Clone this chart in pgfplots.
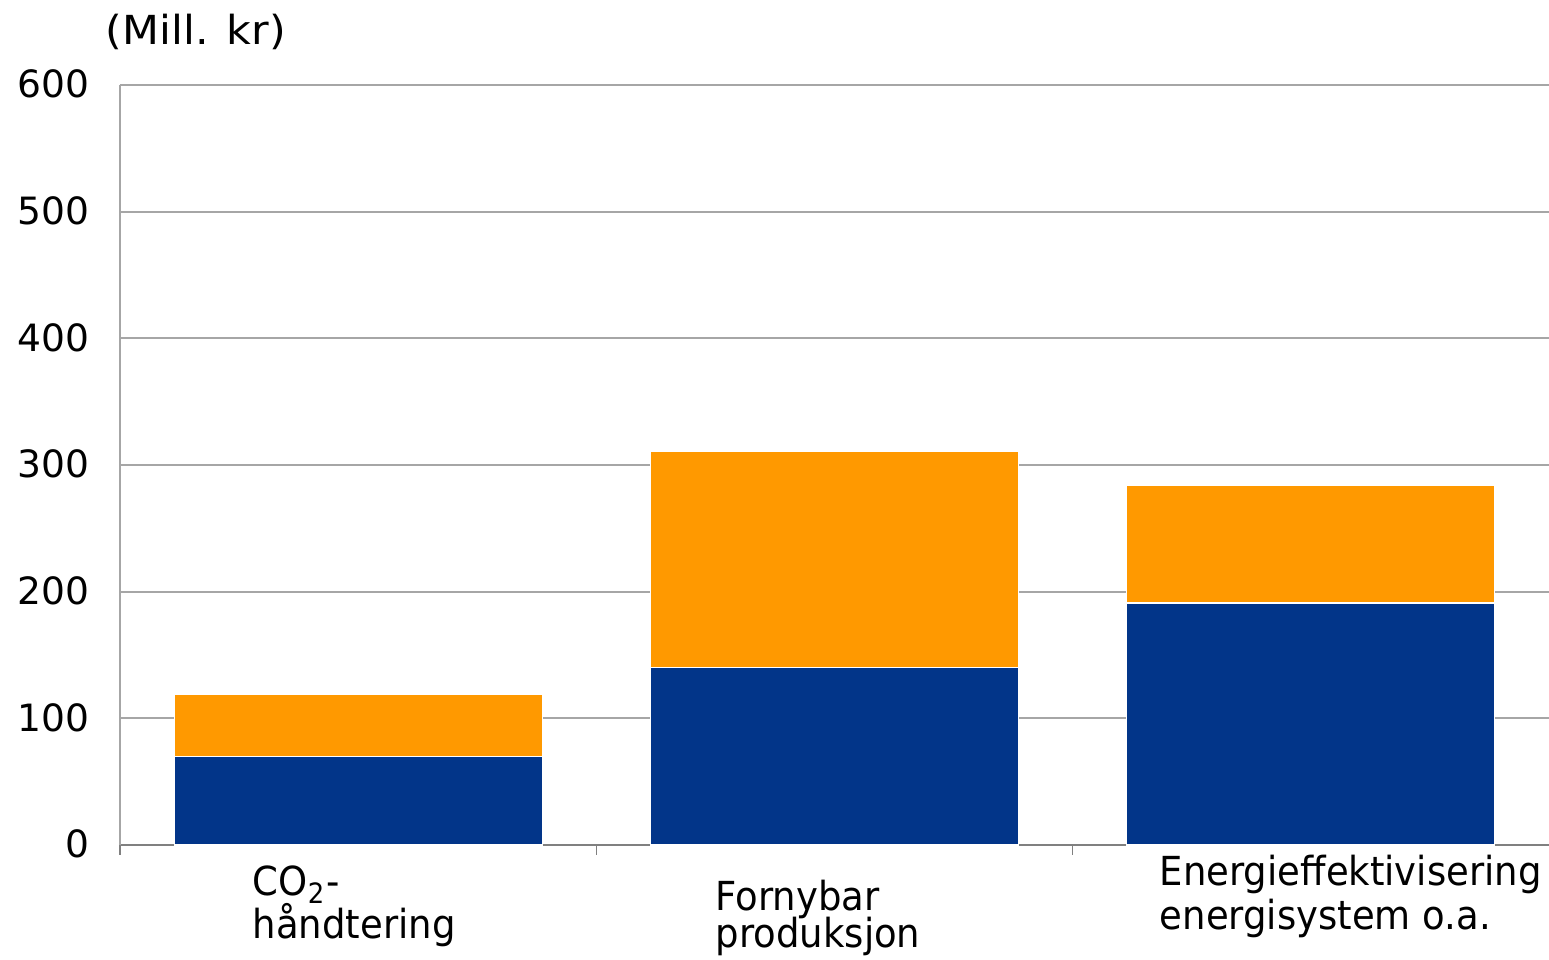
\documentclass[border=0pt]{standalone}
\usepackage{fontspec}
\setmainfont{DejaVu Sans}
\usepackage{graphicx}
\usepackage{pgfplots}
\pgfplotsset{compat=1.18}

\definecolor{barblue}{RGB}{2,53,137}
\definecolor{barorange}{RGB}{255,153,0}
\definecolor{gridgray}{RGB}{166,166,166}
\definecolor{axisgray}{RGB}{128,128,128}

% narrower setting for the category labels
\newcommand\cat[1]{\scalebox{0.925}[1]{#1}}

\begin{document}
\begin{tikzpicture}
\useasboundingbox (-30pt,-28.75pt) rectangle (357.25pt,211.25pt);
\begin{axis}[
  at={(0,0)}, anchor=south west,
  scale only axis,
  width=357.25pt, height=190pt,
  ybar stacked,
  bar width=92pt,
  xmin=-0.5, xmax=2.5,
  ymin=0, ymax=600,
  ytick={0,100,...,600},
  xtick={-0.5,0.5,1.5},
  xticklabels={},
  axis x line=bottom,
  axis y line=left,
  axis line style={-, line width=0.5pt},
  x axis line style={axisgray},
  y axis line style={gridgray},
  ymajorgrids,
  grid style={gridgray, line width=0.5pt},
  tick align=outside,
  major tick length=2.5pt,
  xtick style={axisgray, line width=0.4pt},
  ytick style={draw=none},
  /pgf/number format/assume math mode=true,
  yticklabel style={font=\fontsize{9.4}{11}\selectfont, inner sep=0pt, anchor=east, xshift=-5pt, yshift=0.2pt},
  clip=false,
]
\addplot[fill=barblue, draw=white, line width=0.3pt] coordinates {(0,70) (1,140) (2,191)};
\addplot[fill=barorange, draw=white, line width=0.3pt] coordinates {(0,49) (1,171) (2,93)};

% category labels under the bars
\begingroup
\fontsize{9.3}{11}\selectfont
\node[anchor=base west, inner sep=0pt] at ([xshift=33pt,yshift=-12.75pt]rel axis cs:0,0) {\cat{CO$_{\mathrm{2}}$-}};
\node[anchor=base west, inner sep=0pt] at ([xshift=33pt,yshift=-23.5pt]rel axis cs:0,0) {\cat{håndtering}};
\node[anchor=base west, inner sep=0pt] at ([xshift=148.75pt,yshift=-16.5pt]rel axis cs:0,0) {\cat{Fornybar}};
\node[anchor=base west, inner sep=0pt] at ([xshift=148.75pt,yshift=-25.75pt]rel axis cs:0,0) {\cat{produksjon}};
\node[anchor=base west, inner sep=0pt] at ([xshift=259.75pt,yshift=-10.25pt]rel axis cs:0,0) {\cat{Energieffektivisering}};
\node[anchor=base west, inner sep=0pt] at ([xshift=259.75pt,yshift=-21.25pt]rel axis cs:0,0) {\cat{energisystem o.a.}};
\node[anchor=base west, inner sep=0pt] at ([xshift=-3.75pt,yshift=200pt]rel axis cs:0,0) {\scalebox{1.07}[1]{(Mill. kr)}};
\endgroup
\end{axis}
\end{tikzpicture}
\end{document}
